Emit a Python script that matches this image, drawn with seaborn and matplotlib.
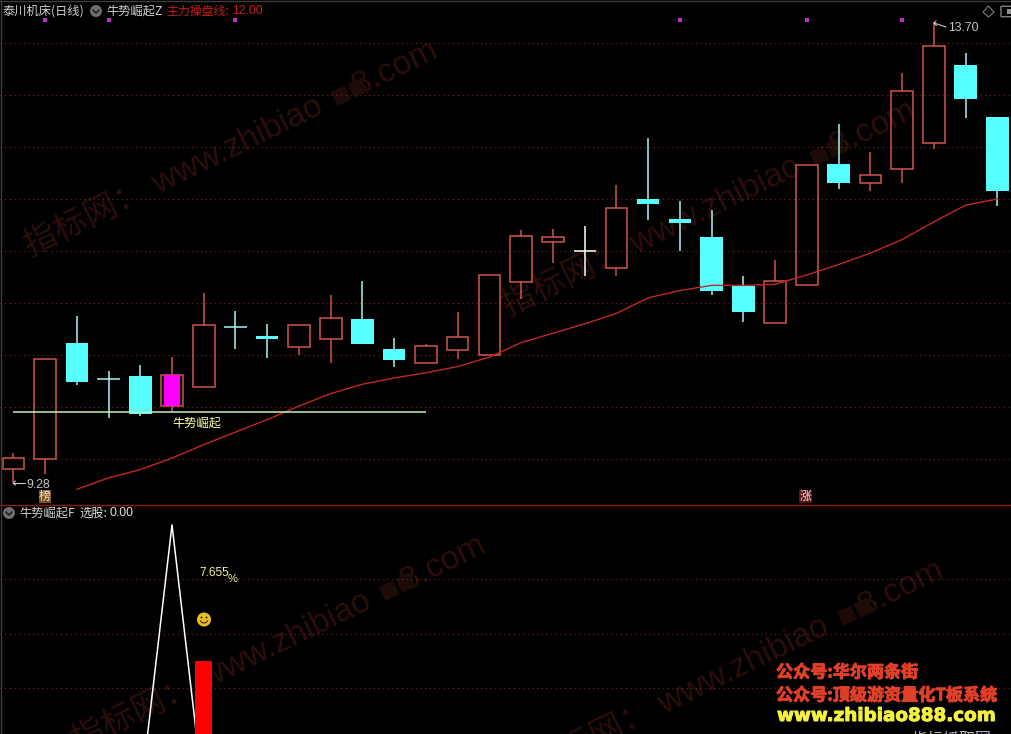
# 泰川机床 日线 + 牛势崛起 副图
import numpy as np
import pandas as pd
import matplotlib
matplotlib.use('Agg')
import matplotlib.pyplot as plt
import matplotlib.patheffects as pe
from matplotlib.patches import Ellipse, Polygon, Rectangle, FancyBboxPatch
import seaborn as sns

# ---- data ----
opens  = [9.41, 9.50, 10.62, 10.27, 10.30, 10.01, 10.19, 10.77, 10.68, 10.58, 10.65,
          10.85, 10.56, 10.42, 10.55, 10.50, 11.20, 11.59, 11.50, 11.34, 12.00, 11.81,
          11.63, 11.16, 10.81, 11.17, 12.34, 12.15, 12.29, 12.54, 13.29, 12.79]
closes = [9.51, 10.46, 10.24, 10.27, 9.93, 10.31, 10.79, 10.77, 10.65, 10.79, 10.86,
          10.61, 10.45, 10.59, 10.67, 11.27, 11.64, 11.63, 11.50, 11.91, 11.95, 11.77,
          11.12, 10.91, 11.21, 12.33, 12.15, 12.23, 13.04, 13.47, 12.96, 12.08]
highs  = [9.56, 10.46, 10.88, 10.35, 10.40, 10.48, 11.10, 10.92, 10.80, 10.79, 11.08,
          11.21, 10.66, 10.61, 10.91, 11.27, 11.70, 11.71, 11.74, 12.13, 12.59, 11.98,
          11.89, 11.26, 11.41, 12.33, 12.72, 12.45, 13.21, 13.70, 13.40, 12.79]
lows   = [9.28, 9.36, 10.21, 9.90, 9.91, 9.95, 10.19, 10.56, 10.47, 10.50, 10.42,
          10.61, 10.39, 10.42, 10.46, 10.50, 11.04, 11.38, 11.26, 11.26, 11.80, 11.50,
          11.08, 10.82, 10.81, 11.17, 12.10, 12.08, 12.15, 12.48, 12.78, 11.93]
ma_days = list(range(2, 32))
ma_line = [9.21, 9.32, 9.40, 9.51, 9.64, 9.76, 9.88, 10.01, 10.13, 10.22, 10.28, 10.33,
           10.39, 10.48, 10.62, 10.71, 10.80, 10.90, 11.05, 11.12, 11.17, 11.17, 11.18,
           11.27, 11.37, 11.48, 11.61, 11.78, 11.94, 12.00]
price_grid = [9.5, 10.0, 10.5, 11.0, 11.5, 12.0, 12.5, 13.0, 13.5]
signal_days = [1, 3, 7, 21, 25, 28]
signal_level = 13.72
white_doji = 18
magenta_day = 5
support_days = [0, 13]
support_price = 9.95

pick_days = [4, 5, 6]
pick_values = [0, 100, 0]
osc_grid = [40, 60, 80]
red_bar_day = 6
red_bar_value = 50
pct_value = 82.3

UP = '#d2544e'
DOWN = '#55ffff'
WICK_DOWN = '#a8f4f4'
WM = '#2c0f0a'
CJK = ['Noto Sans CJK SC', 'DejaVu Sans']
LATIN_CJK = ['Liberation Sans', 'Noto Sans CJK SC']

sns.set_style('dark', {'axes.facecolor': 'black', 'figure.facecolor': 'black'})
plt.rcParams['font.family'] = CJK
plt.rcParams['axes.unicode_minus'] = False

fig = plt.figure(figsize=(10.12, 7.34), dpi=100, facecolor='black')
W, H = 1012.0, 734.0
ax = fig.add_axes([0, 1 - 504 / H, 1, 504 / H])
ax2 = fig.add_axes([0, 0, 1, 229 / H])
for a in (ax, ax2):
    a.set_facecolor('none')
    a.set_zorder(1)
    a.set_xlim(-0.419, 31.464)
    a.set_xticks([])
    a.set_yticks([])
    a.grid(False)
    for s in a.spines.values():
        s.set_visible(False)
ax.set_ylim(9.069, 13.912)
ax2.set_ylim(23.2, 107.3)


def px_text(x, y, s, **kw):
    # figure text placed in picture pixels
    return fig.text(x / W, 1 - y / H, s, **kw)


def px_ring(cx, cy, rad, **kw):
    # a round dot, radius given in pixels
    return Ellipse((cx / W, 1 - cy / H), 2 * rad / W, 2 * rad / H, transform=fig.transFigure, **kw)


# watermarks go first, everything else sits on top of them
wm = '指标网： www.zhibiao    8.com'
for x, y in [(232, 150), (710, 210), (280, 645), (738, 670)]:
    px_text(x, y, wm, color=WM, fontsize=24, rotation=26, ha='center', va='center',
            rotation_mode='anchor', zorder=0, family=LATIN_CJK)
    px_text(x + 118, y - 58, '■■', color='#1d0c08', fontsize=14, rotation=26, ha='center', va='center',
            rotation_mode='anchor', zorder=0, family=CJK)

# ---- main pane ----
for g in price_grid:
    ax.axhline(g, color='#7a2a22', lw=0.8, ls=(0, (1, 3.2)), zorder=1)

days = np.arange(len(opens))
for d, o, c, h, l in zip(days, opens, closes, highs, lows):
    if c > o:
        ax.vlines(d, c, h, color=UP, lw=1.1, zorder=3)
        ax.vlines(d, l, o, color=UP, lw=1.1, zorder=3)
        ax.bar(d, c - o, bottom=o, width=0.68, facecolor='none', edgecolor=UP, lw=1.1, zorder=3)
        if d == magenta_day:
            ax.bar(d, c - o, bottom=o, width=0.52, color='#ff00ff', lw=0, zorder=4)
    elif c < o:
        ax.vlines(d, l, h, color=WICK_DOWN, lw=1.1, zorder=3)
        ax.bar(d, o - c, bottom=c, width=0.71, color=DOWN, lw=0, zorder=4)
    else:
        col = 'white' if d == white_doji else WICK_DOWN
        ax.vlines(d, l, h, color=col, lw=1.1, zorder=3)
        ax.hlines(o, d - 0.35, d + 0.35, color=col, lw=1.1, zorder=3)

ma_df = pd.DataFrame({'day': ma_days, 'ma': ma_line})
sns.lineplot(data=ma_df, x='day', y='ma', color='#c42626', lw=1.0, ax=ax, zorder=5)
ax.hlines(support_price, support_days[0], support_days[1], color='#c6f0b4', lw=1.1, zorder=6)

sig_df = pd.DataFrame({'day': signal_days, 'y': [signal_level] * len(signal_days)})
sns.scatterplot(data=sig_df, x='day', y='y', marker='s', s=9, color='#c030c8', linewidth=0, ax=ax, zorder=6)
ax.set_xlabel('')
ax.set_ylabel('')

ax.text(magenta_day, 9.85, '牛势崛起', color='#ffff9a', fontsize=8.8, ha='left', va='center', zorder=7)
px_text(26, 485, '9.28', color='#c8c8c8', fontsize=8.8, ha='left', va='center', family='Liberation Sans')
px_text(948, 28, '13.70', color='#c8c8c8', fontsize=8.8, ha='left', va='center', family='Liberation Sans')
fig.add_artist(plt.Line2D([13 / W, 25 / W], [1 - 483 / H, 1 - 483 / H], color='#c8c8c8', lw=0.8))
fig.add_artist(plt.Line2D([15.5 / W, 13 / W, 15.5 / W], [1 - 481 / H, 1 - 483 / H, 1 - 485 / H], color='#c8c8c8', lw=0.8))
fig.add_artist(plt.Line2D([934 / W, 946 / W], [1 - 23 / H, 1 - 27 / H], color='#c8c8c8', lw=0.8))
fig.add_artist(plt.Line2D([936 / W, 934 / W, 936.5 / W], [1 - 21 / H, 1 - 23 / H, 1 - 25.5 / H], color='#c8c8c8', lw=0.8))

# badges above the pane border
fig.add_artist(Rectangle((38.5 / W, 1 - 503 / H), 12 / W, 13 / H, transform=fig.transFigure, color='#7a4f22', lw=0))
px_text(44.5, 496.5, '榜', color='#f5e8c8', fontsize=8.6, ha='center', va='center')
fig.add_artist(Rectangle((799 / W, 1 - 503 / H), 13 / W, 13 / H, transform=fig.transFigure, color='#5c1212', lw=0))
px_text(805.5, 496.5, '涨', color='#f0e0e0', fontsize=8.6, ha='center', va='center')

# ---- header texts ----
px_text(3, 11.5, '泰川机床(日线)', color='#d0d0d0', fontsize=8.8, ha='left', va='center')
px_text(106, 11.5, '牛势崛起Z', color='#d0d0d0', fontsize=8.8, ha='left', va='center')
px_text(166, 11.5, '主力操盘线:', color='#c81e1e', fontsize=8.6, ha='left', va='center')
px_text(232, 11.5, '12.00', color='#c81e1e', fontsize=8.8, ha='left', va='center', family='Liberation Sans')
px_text(19, 513, '牛势崛起F', color='#d0d0d0', fontsize=8.8, ha='left', va='center')
px_text(79, 513, '选股:', color='#e0e0e0', fontsize=8.8, ha='left', va='center')
px_text(110, 513, '0.00', color='#e0e0e0', fontsize=8.8, ha='left', va='center', family='Liberation Sans')

# collapse buttons and corner icons
for cx, cy in [(96, 11), (9, 513)]:
    fig.add_artist(px_ring(cx, cy, 6, color='#6e6e6e', lw=0))
    fig.add_artist(plt.Line2D([(cx - 3) / W, cx / W, (cx + 3) / W], [1 - (cy - 1) / H, 1 - (cy + 2) / H, 1 - (cy - 1) / H],
                              color='#1c1c1c', lw=1.1))
fig.add_artist(Polygon([(983 / W, 1 - 12 / H), (988.5 / W, 1 - 6 / H), (994 / W, 1 - 12 / H), (988.5 / W, 1 - 17 / H)],
                       closed=True, transform=fig.transFigure, fill=False, edgecolor='#808080', lw=0.8))
fig.add_artist(FancyBboxPatch((1002 / W, 1 - 16 / H), 12 / W, 9 / H, boxstyle='round,pad=0.001', transform=fig.transFigure,
                              fill=False, edgecolor='#808080', lw=1.0))
fig.add_artist(Rectangle((1007 / W, 1 - 14 / H), 5 / W, 5 / H, transform=fig.transFigure, color='#909090', lw=0))

# frame lines
fig.add_artist(plt.Line2D([0, 1], [1 - 504.5 / H, 1 - 504.5 / H], color='#8c1c1c', lw=1.0))
fig.add_artist(plt.Line2D([0, 1], [1 - 0.8 / H, 1 - 0.8 / H], color='#3c3c3c', lw=1.0))
fig.add_artist(plt.Line2D([0.6 / W, 0.6 / W], [0, 1], color='#3c3c3c', lw=1.0))

# ---- lower pane ----
for g in osc_grid:
    ax2.axhline(g, color='#7a2a22', lw=0.8, ls=(0, (1, 3.2)), zorder=1)

pick_df = pd.DataFrame({'day': pick_days, 'value': pick_values})
sns.lineplot(data=pick_df, x='day', y='value', color='white', lw=1.1, ax=ax2, zorder=4)
ax2.set_xlim(-0.419, 31.464)
ax2.set_ylim(23.2, 107.3)
ax2.set_xlabel('')
ax2.set_ylabel('')
ax2.bar(red_bar_day, red_bar_value, width=0.54, color='#ff0000', lw=0, zorder=5)
ax2.text(red_bar_day - 0.13, pct_value, '7.655', color='#f5f0a0', fontsize=8.6, ha='left', va='center',
         family='Liberation Sans', zorder=6)
px_text(233, 579, '%', color='#f5f0a0', fontsize=8.0, ha='center', va='center', family='Liberation Sans')

# smiley
fig.add_artist(px_ring(204, 619.5, 7, color='#e8c020', lw=0))
for dx in (-2.5, 2.5):
    fig.add_artist(px_ring(204 + dx, 617.5, 1.0, color='#3a2a00', lw=0))
t = np.linspace(np.pi * 1.15, np.pi * 1.85, 12)
fig.add_artist(plt.Line2D((204 + 4 * np.cos(t)) / W, 1 - (619 - 4 * np.sin(t)) / H, color='#3a2a00', lw=0.8))

# ad text at bottom right
heavy_red = [pe.withStroke(linewidth=0.7, foreground='#e0402a')]
heavy_yel = [pe.withStroke(linewidth=0.7, foreground='#f4f040')]
px_text(776, 672.5, '公众号:华尔两条街', color='#e0402a', fontsize=12.3, ha='left', va='center',
        fontweight='bold', path_effects=heavy_red)
px_text(776, 695.5, '公众号:顶级游资量化T板系统', color='#e0402a', fontsize=12.3, ha='left', va='center',
        fontweight='bold', path_effects=heavy_red)
px_text(777, 716, 'www.zhibiao888.com', color='#f4f040', fontsize=13.2, ha='left', va='center',
        fontweight='bold', family='DejaVu Sans', path_effects=heavy_yel)
px_text(912, 739, '指标抓取网', color='#b0b0b0', fontsize=11.5, ha='left', va='center')

fig.savefig('out.png', dpi=100, facecolor='black')
